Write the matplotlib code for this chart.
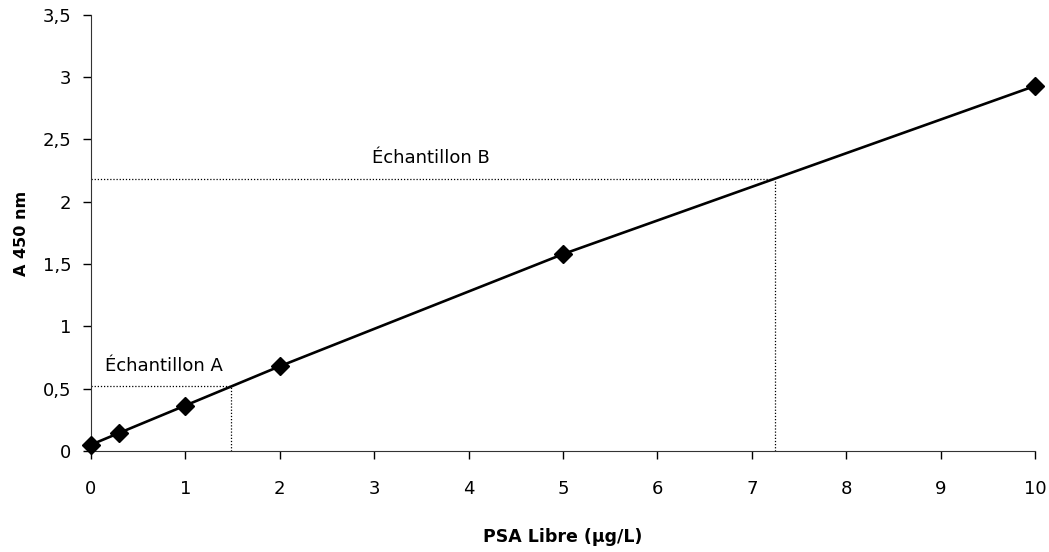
import matplotlib.pyplot as plt
from matplotlib.ticker import FuncFormatter

plt.rcParams["font.family"] = ["DejaVu Sans"]

# standard curve
psa_std = [0, 0.3, 1, 2, 5, 10]
abs_std = [0.05, 0.145, 0.365, 0.68, 1.58, 2.93]

# samples
sample_names = ["Échantillon A", "Échantillon B"]
sample_psa = [1.48, 7.25]
sample_abs = [0.525, 2.185]
label_x = [0.15, 2.98]
label_y = [0.68, 2.35]

x_ticks = list(range(0, 11))
y_ticks = [0, 0.5, 1, 1.5, 2, 2.5, 3, 3.5]

fig = plt.figure(figsize=(10.49, 5.52), dpi=100)
ax = fig.add_axes([0.0867, 0.183, 0.9, 0.79])

ax.plot(psa_std, abs_std, color="black", lw=1.9, marker="D", ms=9,
        mfc="black", mec="black", zorder=3, clip_on=False)

for name, px, ay, tx, ty in zip(sample_names, sample_psa, sample_abs, label_x, label_y):
    ax.plot([0, px], [ay, ay], color="black", lw=0.9, ls=(0, (1, 1.5)), zorder=2)
    ax.plot([px, px], [0, ay], color="black", lw=0.9, ls=(0, (1, 1.5)), zorder=2)
    ax.text(tx, ty, name, fontsize=13, ha="left", va="center")

ax.set_xlim(0, 10)
ax.set_ylim(0, 3.5)
ax.set_xticks(x_ticks)
ax.set_yticks(y_ticks)
ax.yaxis.set_major_formatter(FuncFormatter(lambda v, p: f"{v:g}".replace(".", ",")))
ax.tick_params(direction="out", length=6, labelsize=13, colors="black", width=1)
ax.tick_params(axis="x", pad=15)
ax.tick_params(axis="y", pad=8)

for s in ["top", "right"]:
    ax.spines[s].set_visible(False)
for s in ["left", "bottom"]:
    ax.spines[s].set_color("#333333")

ax.set_xlabel("PSA Libre (µg/L)", fontsize=12.5, fontweight="bold", va="center")
ax.set_ylabel("A 450 nm", fontsize=11.5, fontweight="bold", va="center")
ax.xaxis.set_label_coords(0.5, -0.197)
ax.yaxis.set_label_coords(-0.074, 0.5)

fig.savefig("out.png", dpi=100)
